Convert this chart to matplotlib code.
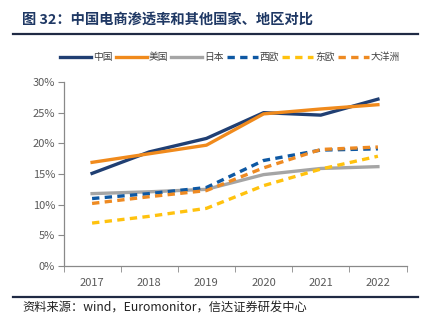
import numpy as np
import matplotlib.pyplot as plt
from matplotlib.ticker import FixedLocator, PercentFormatter

plt.rcParams['font.family'] = ['Noto Sans CJK SC', 'DejaVu Sans']

## data: e-commerce penetration (%)
years = ['2017', '2018', '2019', '2020', '2021', '2022']
china = [15.1, 18.6, 20.8, 25.0, 24.6, 27.2]
usa = [16.9, 18.3, 19.7, 24.8, 25.6, 26.3]
japan = [11.8, 12.1, 12.5, 14.9, 15.9, 16.2]
w_europe = [11.0, 11.8, 12.8, 17.2, 18.9, 19.1]
e_europe = [7.0, 8.1, 9.4, 13.1, 15.8, 17.9]
oceania = [10.2, 11.3, 12.3, 16.0, 19.0, 19.4]

names = ['中国', '美国', '日本', '西欧', '东欧', '大洋洲']
colors = ['#203F73', '#F08A1C', '#A5A5A5', '#0E58A3', '#FFC20E', '#EE8A22']
styles = ['-', '-', '-', (0, (2.2, 1.6)), (0, (2.2, 1.6)), (0, (2.2, 1.6))]

###################################
# plotting
fig = plt.figure(figsize=(4.23, 3.22), dpi=100)
W, H = 423, 322

fig.text(22 / W, 1 - 20 / H, '图 32：中国电商渗透率和其他国家、地区对比',
         fontsize=10.3, fontweight='bold', color='#1F3864', va='center')
fig.add_artist(plt.Line2D([13 / W, 418 / W], [1 - 34 / H, 1 - 34 / H],
                          color='#1F2A44', lw=1.6))
fig.add_artist(plt.Line2D([13 / W, 418 / W], [1 - 297 / H, 1 - 297 / H],
                          color='#1F2A44', lw=1.6))
fig.text(22 / W, 1 - 308 / H, '资料来源：wind，Euromonitor，信达证券研发中心',
         fontsize=8.8, style='italic', color='#222222', va='center')

ax = fig.add_axes([63.5 / W, 1 - 266 / H, (406.5 - 63.5) / W, (266 - 82) / H])
x = np.arange(len(years))
series = [china, usa, japan, w_europe, e_europe, oceania]
for vals, name, c, ls in zip(series, names, colors, styles):
    ax.plot(x, vals, color=c, lw=2.4, ls=ls, label=name)

ax.set_xlim(-0.5, len(years) - 0.5)
ax.set_ylim(0, 30)
ax.set_yticks(np.arange(0, 31, 5))
ax.yaxis.set_major_formatter(PercentFormatter(decimals=0))
ax.set_xticks(x)
ax.set_xticklabels(years)
ax.xaxis.set_minor_locator(FixedLocator(np.arange(-0.5, len(years), 1)))
ax.tick_params(axis='x', which='major', length=0, pad=9)
ax.tick_params(axis='x', which='minor', length=4, color='#898989')
ax.tick_params(axis='y', length=4, color='#898989', pad=2)
ax.tick_params(labelsize=8, labelcolor='#595959')
for side in ['top', 'right']:
    ax.spines[side].set_visible(False)
for side in ['left', 'bottom']:
    ax.spines[side].set_color('#898989')
    ax.spines[side].set_linewidth(0.9)

fig.legend(loc='center', bbox_to_anchor=(230 / W, 1 - 57 / H), ncol=6,
           frameon=False, fontsize=7, handlelength=3.2, handletextpad=0.2,
           columnspacing=0.3, labelcolor='#404040')

fig.savefig('out.png', dpi=100)
